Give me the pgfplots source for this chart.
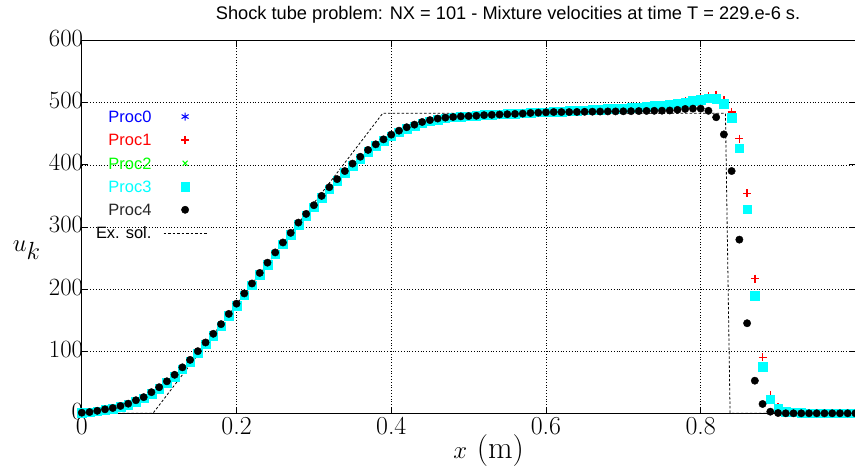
\documentclass[border=0pt]{standalone}
\usepackage{pgfplots}
\pgfplotsset{compat=1.18}
\usepackage{pgfplotstable}
\usepackage{fontspec}
\newfontfamily\lsans{Liberation Sans}
\definecolor{mcyan}{rgb}{0,1,1}
\definecolor{mgreen}{rgb}{0,1,0}
\definecolor{mred}{rgb}{1,0,0}
\definecolor{mblue}{rgb}{0,0,1}
\pgfplotsset{
  mylegmark/.style={legend image code/.code={\draw[mark repeat=2,mark phase=2,##1] plot coordinates {(0bp,0bp) (21.6bp,0bp) (43.3bp,0bp)};}},
  myleglinee/.style={legend image code/.code={\draw[##1] (0bp,0bp) -- (43.3bp,0bp);}},
}
\pgfplotstableread{
x p3 p1 p4
0.00 0.5 0.5 1
0.01 1.5 1.5 2
0.02 3.5 3.5 4
0.03 5.5 5.5 6.4
0.04 7.5 7.5 8.5
0.05 10.5 10.5 11.8
0.06 14 14 15.5
0.07 19 19 21
0.08 24 24 26
0.09 31.5 31.5 34
0.10 39.5 39.5 42
0.11 49 49 51.5
0.12 59 59 62
0.13 71 71 74
0.14 83 83 86
0.15 97 97 100
0.16 111 111 114
0.17 125 125 128
0.18 140.5 140.5 143.5
0.19 157 157 160
0.20 173.5 173.5 176.5
0.21 190 190 193
0.22 206 206 209
0.23 223 223 226
0.24 239.5 239.5 242.5
0.25 256 256 259
0.26 272 272 275
0.27 287.5 287.5 290.5
0.28 304 304 307
0.29 318 318 321
0.30 332 332 335
0.31 347 347 350
0.32 361 361 364
0.33 374 374 377
0.34 387 387 390
0.35 399 399 402
0.36 410 410 413
0.37 421 421 424
0.38 430.5 430.5 433
0.39 438.5 438.5 441
0.40 446 446 448.6
0.41 452.5 452.5 455
0.42 458 458 460.5
0.43 462.5 462.5 464.7
0.44 467 467 469
0.45 470 470 472
0.46 473 473 474.5
0.47 475 475 476
0.48 476.5 476.5 477
0.49 477.5 477.5 478
0.50 478.5 478.5 478.5
0.51 479.5 479.5 479
0.52 480.5 480.5 480
0.53 481 481 480.5
0.54 481.5 481.5 481
0.55 482 482 481.5
0.56 482.5 482.5 482
0.57 483 483 482.5
0.58 484 484 483.5
0.59 484.5 484.5 484
0.60 485 485 484.5
0.61 485.5 485.5 485
0.62 486 486 485
0.63 487 487 485
0.64 487.5 487.5 485.2
0.65 488 488 485.4
0.66 488.5 488.5 485.6
0.67 489 489 485.8
0.68 490 490 486
0.69 490.5 490.5 486
0.70 491 491 486.2
0.71 492 492 486.4
0.72 493 493 486.6
0.73 494 494 486.8
0.74 495 495 487
0.75 496 496.5 487.2
0.76 497.5 498 487.5
0.77 499 499.5 488.5
0.78 501 502 490
0.79 503 504.5 490.5
0.80 505 507.5 490.5
0.81 507 511 487
0.82 506 513 476.6
0.83 498 504 449
0.84 476 485 390
0.85 427 442 279.6
0.86 328.5 354 145
0.87 189.4 217 52.5
0.88 75 90 15
0.89 22.5 29 2.6
0.90 8 10 0.5
0.91 3 3.5 0
0.92 1.5 1.5 0
0.93 0.5 0.5 0
0.94 0 0 0
0.95 0 0 0
0.96 0 0 0
0.97 0 0 0
0.98 0 0 0
0.99 0 0 0
1.00 0 0 0
}\data
\begin{document}
\begin{tikzpicture}
\begin{axis}[
  scale only axis, width=773.6bp, height=372.7bp,
  xmin=0, xmax=1, ymin=0, ymax=600,
  xtick={0,0.2,0.4,0.6,0.8}, xticklabels={0,0.2,0.4,0.6,0.8},
  ytick={0,100,200,300,400,500,600},
  grid=major, grid style={black, dash pattern=on 0.8bp off 2bp, line width=0.6bp},
  tick align=inside, major tick length=6bp,
  tick style={black, line width=0.8bp},
  axis line style={line width=0.9bp},
  tick label style={font=\fontsize{26}{28}\selectfont},
  yticklabel style={inner sep=0bp, xshift=1.5bp, yshift=2bp},
  xticklabel style={inner sep=0bp, yshift=-3.7bp},
  clip=false,
  xlabel={$x$ (m)},
  xlabel style={at={(axis description cs:0.526,-0.1012)}, anchor=center, font=\fontsize{32}{34}\selectfont},
  ylabel={$u_k$},
  ylabel style={rotate=-90, at={(axis description cs:-0.0711,0.438)}, anchor=center, font=\fontsize{33}{35}\selectfont},
  legend style={draw=none, fill=none, inner sep=0pt, outer sep=0pt,
    at={(axis description cs:0.01836,0.8165)}, anchor=north west,
    font=\lsans\fontsize{16.5}{18}\selectfont,
    nodes={inner sep=0pt, text height=13.5bp, text depth=1.7bp},
    row sep=8.1bp, column sep=11.7bp},
  legend cell align=right, legend plot pos=right,
]
\addplot[only marks, mark=asterisk, mark size=4bp, color=mblue, mark options={draw=mblue, line width=1bp}, mylegmark] table[x=x, y=p3] {\data};
\addlegendentry{\textcolor{mblue}{Proc0}}
\addplot[only marks, mark=+, mark size=4bp, color=mred, mark options={draw=mred, line width=1.4bp}, mylegmark] table[x=x, y=p1] {\data};
\addlegendentry{\textcolor{mred}{Proc1}}
\addplot[only marks, mark=x, mark size=3.5bp, color=mgreen, mark options={draw=mgreen, line width=1bp}, mylegmark] table[x=x, y=p3] {\data};
\addlegendentry{\textcolor{mgreen}{Proc2}}
\addplot[only marks, mark=square*, mark size=4.3bp, color=mcyan, mark options={draw=mcyan, fill=mcyan}, mylegmark] table[x=x, y=p3] {\data};
\addlegendentry{\textcolor{mcyan}{Proc3}}
\addplot[only marks, mark=*, mark size=3.7bp, color=black, mark options={draw=black, fill=black}, mylegmark] table[x=x, y=p4] {\data};
\addlegendentry{\textcolor{black!85}{Proc4}}
\addplot[black, line width=0.8bp, dash pattern=on 2.5bp off 2bp, myleglinee] coordinates {(0,0) (0.092,0) (0.389,483) (0.832,483) (0.838,0) (1,0)};
\addlegendentry{Ex. sol.}
\coordinate (bl) at (rel axis cs:0,0);
\node[anchor=base, font=\lsans\fontsize{18.3}{20}\selectfont, inner sep=0pt] at (axis description cs:0.5510,1.0553) {Shock tube problem: NX = 101 - Mixture velocities at time T = 229.e-6 s.};
\end{axis}
\pgfresetboundingbox
\path (bl) ++(-81.8bp,-54.7bp) rectangle ++(855bp,468bp);
\end{tikzpicture}
\end{document}
